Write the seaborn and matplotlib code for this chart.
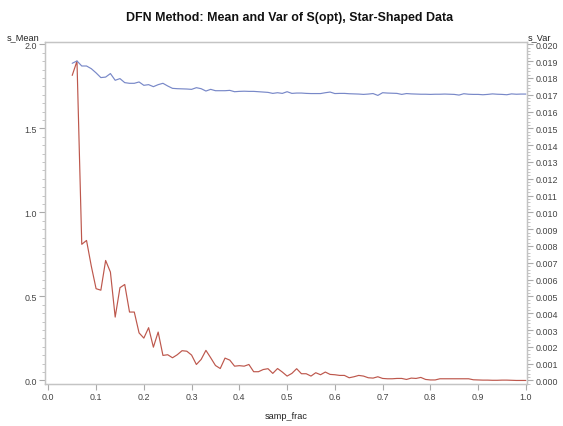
import matplotlib
matplotlib.use("Agg")
import matplotlib.pyplot as plt
from matplotlib.ticker import MultipleLocator
import seaborn as sns
import pandas as pd

# sampling fraction grid
samp_frac = [
    0.05, 0.06, 0.07, 0.08, 0.09, 0.10, 0.11, 0.12, 0.13, 0.14,
    0.15, 0.16, 0.17, 0.18, 0.19, 0.20, 0.21, 0.22, 0.23, 0.24,
    0.25, 0.26, 0.27, 0.28, 0.29, 0.30, 0.31, 0.32, 0.33, 0.34,
    0.35, 0.36, 0.37, 0.38, 0.39, 0.40, 0.41, 0.42, 0.43, 0.44,
    0.45, 0.46, 0.47, 0.48, 0.49, 0.50, 0.51, 0.52, 0.53, 0.54,
    0.55, 0.56, 0.57, 0.58, 0.59, 0.60, 0.61, 0.62, 0.63, 0.64,
    0.65, 0.66, 0.67, 0.68, 0.69, 0.70, 0.71, 0.72, 0.73, 0.74,
    0.75, 0.76, 0.77, 0.78, 0.79, 0.80, 0.81, 0.82, 0.83, 0.84,
    0.85, 0.86, 0.87, 0.88, 0.89, 0.90, 0.91, 0.92, 0.93, 0.94,
    0.95, 0.96, 0.97, 0.98, 0.99, 1.00,
]

s_mean = [
    1.815, 1.900, 0.810, 0.833, 0.680, 0.546, 0.537, 0.714, 0.645, 0.377,
    0.552, 0.571, 0.407, 0.407, 0.283, 0.252, 0.314, 0.198, 0.288, 0.149,
    0.153, 0.135, 0.153, 0.177, 0.174, 0.151, 0.095, 0.125, 0.179, 0.135,
    0.089, 0.071, 0.133, 0.121, 0.085, 0.088, 0.085, 0.095, 0.052, 0.052,
    0.065, 0.070, 0.042, 0.071, 0.050, 0.026, 0.042, 0.070, 0.040, 0.040,
    0.026, 0.046, 0.034, 0.050, 0.036, 0.034, 0.030, 0.030, 0.016, 0.022,
    0.030, 0.026, 0.016, 0.014, 0.022, 0.012, 0.010, 0.010, 0.012, 0.012,
    0.006, 0.014, 0.012, 0.018, 0.006, 0.003, 0.003, 0.010, 0.010, 0.010,
    0.010, 0.010, 0.010, 0.010, 0.004, 0.003, 0.002, 0.002, 0.001, 0.001,
    0.002, 0.002, 0.001, 0.000, 0.000, 0.000,
]

s_var = [
    0.01887, 0.01901, 0.01871, 0.01871, 0.01855, 0.01830, 0.01802, 0.01805, 0.01826, 0.01786,
    0.01796, 0.01772, 0.01768, 0.01768, 0.01776, 0.01756, 0.01760, 0.01748, 0.01760, 0.01768,
    0.01752, 0.01738, 0.01736, 0.01735, 0.01734, 0.01732, 0.01742, 0.01736, 0.01722, 0.01732,
    0.01724, 0.01724, 0.01724, 0.01726, 0.01718, 0.01720, 0.01721, 0.01720, 0.01720, 0.01718,
    0.01716, 0.01714, 0.01708, 0.01712, 0.01708, 0.01718, 0.01708, 0.01710, 0.01710, 0.01708,
    0.01707, 0.01707, 0.01707, 0.01712, 0.01716, 0.01707, 0.01708, 0.01708, 0.01706, 0.01705,
    0.01704, 0.01702, 0.01704, 0.01707, 0.01696, 0.01712, 0.01710, 0.01709, 0.01708, 0.01702,
    0.01707, 0.01705, 0.01704, 0.01703, 0.01703, 0.01702, 0.01703, 0.01703, 0.01704, 0.01703,
    0.01702, 0.01698, 0.01706, 0.01703, 0.01702, 0.01702, 0.01700, 0.01702, 0.01705, 0.01703,
    0.01702, 0.01700, 0.01705, 0.01703, 0.01704, 0.01704,
]

df = pd.DataFrame({"samp_frac": samp_frac, "s_Mean": s_mean, "s_Var": s_var})

sns.set_style("white")
plt.rcParams["font.family"] = ["Liberation Sans", "DejaVu Sans"]

RED = "#bd574c"
BLUE = "#7888c8"
FRAME = "#c4c4c4"
TICKTXT = "#444444"

fig = plt.figure(figsize=(5.63, 4.27), dpi=100)
ax = fig.add_axes([0.0799, 0.0984, 0.8567, 0.8002])

sns.lineplot(data=df, x="samp_frac", y="s_Mean", ax=ax, color=RED, linewidth=0.85)
ax2 = ax.twinx()
sns.lineplot(data=df, x="samp_frac", y="s_Var", ax=ax2, color=BLUE, linewidth=0.85)

ax.set_xlim(-0.007, 1.003)
ax.set_ylim(-0.021, 2.012)
ax2.set_ylim(-0.00021, 0.02012)

ax.xaxis.set_major_locator(MultipleLocator(0.1))
ax.yaxis.set_major_locator(MultipleLocator(0.5))
ax.yaxis.set_minor_locator(MultipleLocator(0.05))
ax2.yaxis.set_major_locator(MultipleLocator(0.001))
ax2.yaxis.set_minor_locator(MultipleLocator(0.0002))

ax.xaxis.set_major_formatter(plt.FuncFormatter(lambda v, p: f"{v:.1f}"))
ax.yaxis.set_major_formatter(plt.FuncFormatter(lambda v, p: f"{v:.1f}"))
ax2.yaxis.set_major_formatter(plt.FuncFormatter(lambda v, p: f"{v:.3f}"))

for a in (ax, ax2):
    for s in a.spines.values():
        s.set_color(FRAME)
        s.set_linewidth(0.9)
    a.tick_params(which="major", length=4, width=0.8, color="#aaaaaa",
                  labelsize=6.4, labelcolor=TICKTXT, pad=2)
    a.tick_params(which="minor", length=2, width=0.6, color="#bbbbbb")

ax.tick_params(axis="x", which="major", bottom=True)
ax.tick_params(axis="y", which="both", left=True)
ax2.tick_params(axis="y", which="both", right=True)

ax.set_xlabel("samp_frac", fontsize=6.6, color="#222222", labelpad=7)
ax.set_ylabel("s_Mean", fontsize=6.6, color="#222222", rotation=0, ha="center", va="center")
ax.yaxis.set_label_coords(-0.045, 1.0155)
ax2.set_ylabel("s_Var", fontsize=6.6, color="#222222", rotation=0, ha="center", va="center")
ax2.yaxis.set_label_coords(1.026, 1.0155)

fig.text(0.515, 0.958, "DFN Method: Mean and Var of S(opt), Star-Shaped Data",
         ha="center", va="center", fontsize=8.9, fontweight="bold", color="#111111")

fig.savefig("out.png", dpi=100)
